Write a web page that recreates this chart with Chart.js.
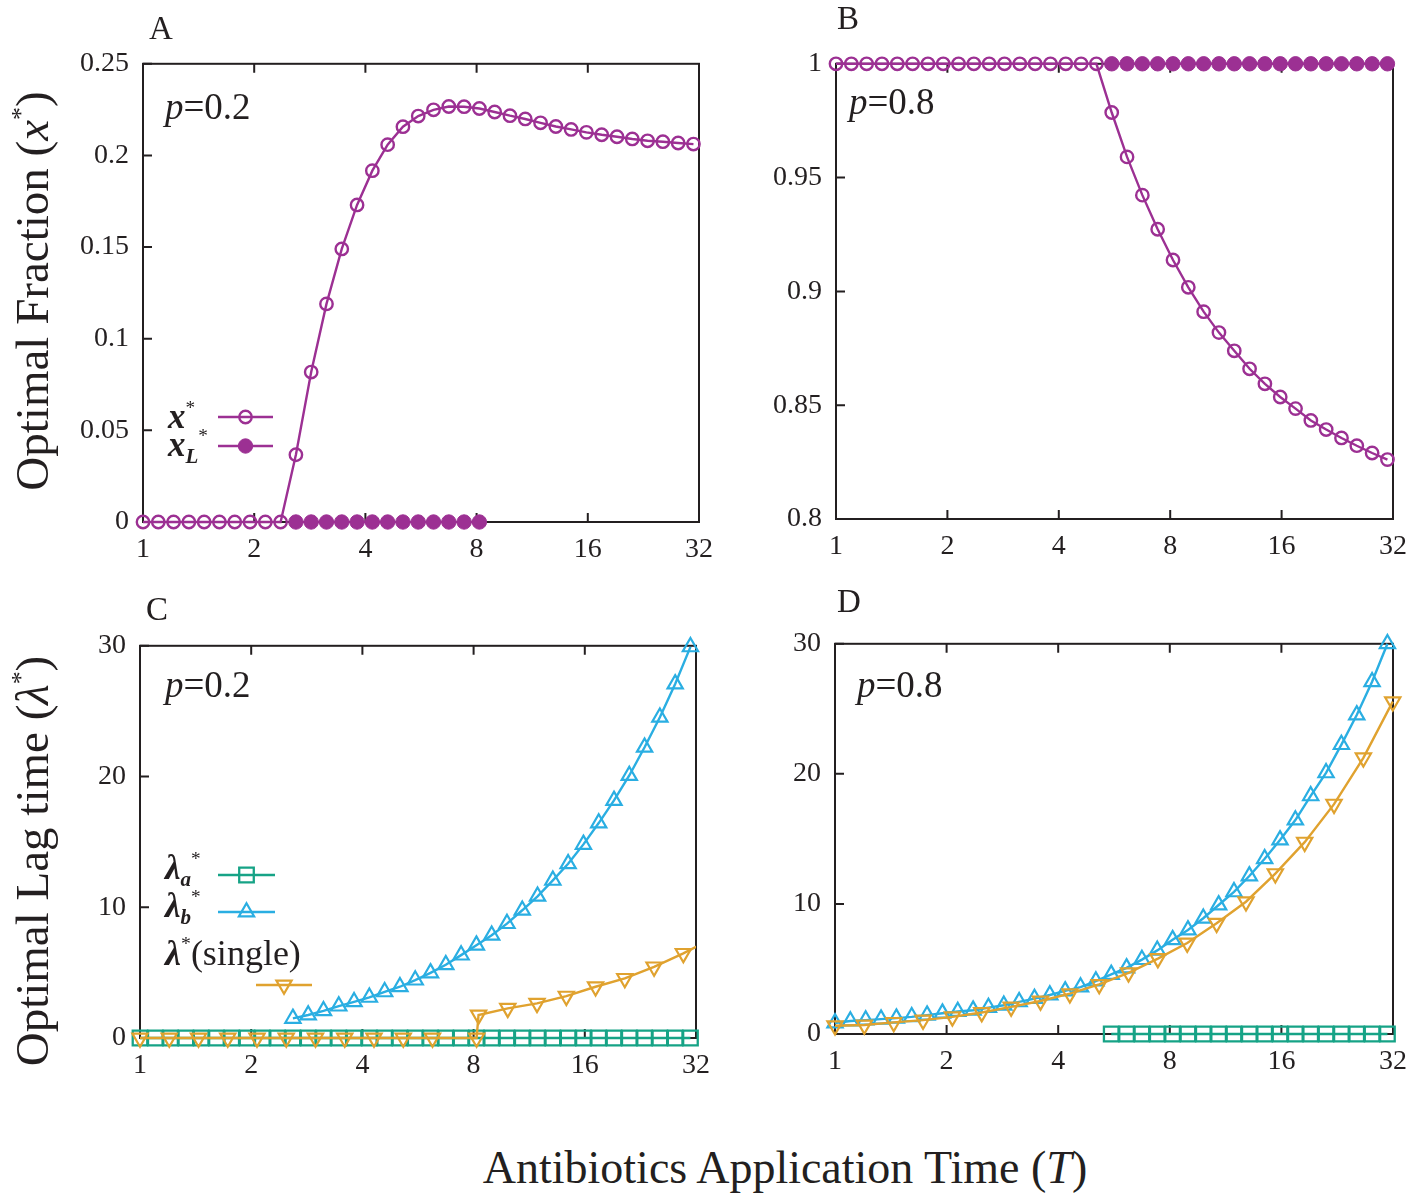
<!DOCTYPE html>
<html>
<head>
<meta charset="utf-8">
<title>Optimal fraction and lag time</title>
<script src="https://cdn.jsdelivr.net/npm/chart.js@4.4.1/dist/chart.umd.min.js"></script>
<style>
  body { margin: 0; background: #fff; }
  #wrap { position: relative; width: 1424px; height: 1194px; background: #fff; overflow: hidden;
          font-family: "Liberation Serif", "Times New Roman", serif; color: #231f20; }
  canvas.panel { position: absolute; }
  .txt { position: absolute; white-space: nowrap; line-height: 1; }
  .bi { font-weight: bold; font-style: italic; }
  .sup { position: relative; font-size: 0.55em; top: -0.75em; }
  .sub { position: relative; font-size: 0.6em; top: 0.35em; }
</style>
</head>
<body>
<div id="wrap">
  <canvas class="panel" id="cA"></canvas>
  <canvas class="panel" id="cB"></canvas>
  <canvas class="panel" id="cC"></canvas>
  <canvas class="panel" id="cD"></canvas>

  <div class="txt" style="left:149px;top:12px;font-size:33px">A</div>
  <div class="txt" style="left:837px;top:2px;font-size:33px">B</div>
  <div class="txt" style="left:146px;top:593px;font-size:33px">C</div>
  <div class="txt" style="left:837px;top:585px;font-size:33px">D</div>

  <div class="txt" style="left:165px;top:88px;font-size:37px"><i>p</i>=0.2</div>
  <div class="txt" style="left:849px;top:83px;font-size:37px"><i>p</i>=0.8</div>
  <div class="txt" style="left:165px;top:666px;font-size:37px"><i>p</i>=0.2</div>
  <div class="txt" style="left:857px;top:666px;font-size:37px"><i>p</i>=0.8</div>

  <!-- legend labels -->
  <div class="txt" style="left:168px;top:399px;font-size:35px"><span class="bi">x</span><span class="sup">*</span></div>
  <div class="txt" style="left:168px;top:427px;font-size:35px"><span class="bi">x</span><span class="sub bi">L</span><span class="sup">*</span></div>
  <div class="txt" style="left:165px;top:850px;font-size:35px"><span class="bi">λ</span><span class="sub bi">a</span><span class="sup">*</span></div>
  <div class="txt" style="left:165px;top:888px;font-size:35px"><span class="bi">λ</span><span class="sub bi">b</span><span class="sup">*</span></div>
  <div class="txt" style="left:165px;top:935px;font-size:36px"><span class="bi">λ</span><span class="sup">*</span>(single)</div>

  <div class="txt" style="left:32px;top:291px;font-size:47px;transform:translate(-50%,-50%) rotate(-90deg)">Optimal Fraction (<i>x</i><span class="sup">*</span>)</div>
  <div class="txt" style="left:32px;top:861px;font-size:47px;transform:translate(-50%,-50%) rotate(-90deg)">Optimal Lag time (<i>λ</i><span class="sup">*</span>)</div>
  <div class="txt" style="left:785px;top:1168px;font-size:46px;transform:translate(-50%,-50%)">Antibiotics Application Time (<i>T</i>)</div>
</div>

<script>
// time grids (T = 1.1^k and T = 1.2^j)
var T_fine = [1, 1.1, 1.21, 1.331, 1.4641, 1.6105, 1.7716, 1.9487, 2.1436, 2.3579,
  2.5937, 2.8531, 3.1384, 3.4523, 3.7975, 4.1772, 4.595, 5.0545, 5.5599, 6.1159,
  6.7275, 7.4003, 8.1403, 8.9543, 9.8497, 10.8347, 11.9182, 13.11, 14.421, 15.8631,
  17.4494, 19.1943, 21.1138, 23.2252, 25.5477, 28.1024, 30.9127];
var T_coarse = [1, 1.2, 1.44, 1.728, 2.0736, 2.4883, 2.986, 3.5832, 4.2998, 5.1598,
  6.1917, 7.4301, 8.9161, 10.6993, 12.8392, 15.407, 18.4884, 22.1861, 26.6233, 31.948];
var T_singleC = [1, 1.2, 1.44, 1.728, 2.0736, 2.4883, 2.986, 3.5832, 4.2998, 5.1598,
  6.1917, 8.15, 8.25, 9.9, 11.88, 14.26, 17.11, 20.53, 24.64, 29.57, 35.48];

var xTickVals = [1, 2, 4, 8, 16, 32];
var xTickLabels = ['1', '2', '4', '8', '16', '32'];
var yTickValsA = [0, 0.05, 0.1, 0.15, 0.2, 0.25];
var yTickLabelsA = ['0', '0.05', '0.1', '0.15', '0.2', '0.25'];
var yTickValsB = [0.8, 0.85, 0.9, 0.95, 1];
var yTickLabelsB = ['0.8', '0.85', '0.9', '0.95', '1'];
var yTickValsLag = [0, 10, 20, 30];
var yTickLabelsLag = ['0', '10', '20', '30'];

// panel A, p = 0.2
var xStarA = [0, 0, 0, 0, 0, 0, 0, 0, 0, 0,
  0.0367, 0.0818, 0.119, 0.149, 0.173, 0.1917, 0.2059, 0.2157, 0.2215, 0.2249,
  0.2267, 0.2266, 0.2256, 0.2237, 0.2217, 0.2199, 0.2178, 0.2158, 0.2142, 0.2126,
  0.2113, 0.2102, 0.209, 0.208, 0.2075, 0.2068, 0.2062];
var xLStarA = [null, null, null, null, null, null, null, null, null, null,
  0, 0, 0, 0, 0, 0, 0, 0, 0, 0, 0, 0, 0,
  null, null, null, null, null, null, null, null, null, null, null, null, null, null];

// panel B, p = 0.8
var xStarB = [1, 1, 1, 1, 1, 1, 1, 1, 1, 1, 1, 1, 1, 1, 1, 1, 1, 1,
  0.9786, 0.9591, 0.9423, 0.9273, 0.9138, 0.9018, 0.8911, 0.8819, 0.8739, 0.866,
  0.8594, 0.8536, 0.8485, 0.8433, 0.8393, 0.8356, 0.8322, 0.829, 0.8261];
var xLStarB = [null, null, null, null, null, null, null, null, null, null,
  null, null, null, null, null, null, null, null,
  1, 1, 1, 1, 1, 1, 1, 1, 1, 1, 1, 1, 1, 1, 1, 1, 1, 1, 1];

// panel C, p = 0.2
var lagAC = [0, 0, 0, 0, 0, 0, 0, 0, 0, 0, 0, 0, 0, 0, 0, 0, 0, 0, 0, 0,
  0, 0, 0, 0, 0, 0, 0, 0, 0, 0, 0, 0, 0, 0, 0, 0, 0];
var lagBC = [null, null, null, null, null, null, null, null, null, null,
  1.5, 1.76, 2.08, 2.44, 2.77, 3.11, 3.53, 3.92, 4.43, 4.98,
  5.6, 6.34, 7.1, 7.86, 8.75, 9.77, 10.84, 12.06, 13.33, 14.81,
  16.44, 18.17, 20.08, 22.24, 24.53, 27.08, 29.92];
var lagSingleC = [0, 0, 0, 0, 0, 0, 0, 0, 0, 0, 0, 0,
  1.76, 2.27, 2.65, 3.2, 3.92, 4.56, 5.44, 6.47, 7.63];

// panel D, p = 0.8
var lagAD = [null, null, null, null, null, null, null, null, null, null,
  null, null, null, null, null, null, null, null,
  0, 0, 0, 0, 0, 0, 0, 0, 0, 0, 0, 0, 0, 0, 0, 0, 0, 0, 0];
var lagBD = [0.85, 1.0, 1.07, 1.14, 1.22, 1.32, 1.45, 1.6, 1.73, 1.83,
  2.03, 2.21, 2.47, 2.72, 3.0, 3.31, 3.61, 4.07, 4.58, 5.08,
  5.72, 6.43, 7.25, 8.0, 8.9, 9.92, 10.93, 12.15, 13.47, 14.92,
  16.45, 18.31, 20.08, 22.25, 24.53, 27.08, 30.0];
var lagSingleD = [0.64, 0.69, 0.89, 1.07, 1.32, 1.65, 2.08, 2.54, 3.1, 3.81,
  4.7, 5.8, 6.99, 8.52, 10.17, 12.33, 14.75, 17.67, 21.23, 25.55];

var INK = '#231f20';
var PURPLE = '#9c3093';
var CYAN = '#2aaee2';
var ORANGE = '#e0a22f';
var GREEN = '#16a386';
var NONE = 'rgba(255,255,255,0)';

var mOpen = { style: 'circle', r: 6.2, bw: 2.4, color: PURPLE, fill: NONE };
var mFilled = { style: 'circle', r: 7.2, bw: 1, color: PURPLE, fill: PURPLE };
var mSquare = { style: 'rect', r: 10.3, bw: 2.3, color: GREEN, fill: NONE };
var mUp = { style: 'triangle', r: 8.8, bw: 2.2, color: CYAN, fill: NONE, rot: 0 };
var mDown = { style: 'triangle', r: 8.8, bw: 2.2, color: ORANGE, fill: NONE, rot: 180 };

function pts(xs, ys) {
  return xs.map(function (x, i) { return { x: x, y: ys[i] }; });
}

function series(label, xs, ys, m, order, clip) {
  return {
    label: label, data: pts(xs, ys), order: order,
    borderColor: m.color, borderWidth: 2.4, backgroundColor: m.fill,
    pointStyle: m.style, pointRadius: m.r, pointHoverRadius: m.r,
    pointBorderWidth: m.bw, pointBorderColor: m.color, pointBackgroundColor: m.fill,
    pointRotation: m.rot || 0, tension: 0, fill: false, spanGaps: false,
    clip: clip === undefined ? 14 : clip
  };
}

function marker(ctx, m, x, y) {
  ctx.save();
  ctx.lineWidth = m.bw;
  ctx.strokeStyle = m.color;
  ctx.fillStyle = m.fill;
  ctx.beginPath();
  if (m.style === 'circle') {
    ctx.arc(x, y, m.r, 0, Math.PI * 2);
  } else if (m.style === 'rect') {
    var s = m.r * Math.SQRT1_2;
    ctx.rect(x - s, y - s, 2 * s, 2 * s);
  } else {
    var rad = (m.rot || 0) * Math.PI / 180;
    for (var i = 0; i < 3; i++) {
      var a = rad + i * 2 * Math.PI / 3;
      var px = x + Math.sin(a) * m.r, py = y - Math.cos(a) * m.r;
      if (i) ctx.lineTo(px, py); else ctx.moveTo(px, py);
    }
    ctx.closePath();
  }
  ctx.fill();
  ctx.stroke();
  ctx.restore();
}

// box frame with inward ticks, under the data
var framePlugin = {
  id: 'frame',
  beforeDatasetsDraw: function (chart) {
    var a = chart.chartArea, ctx = chart.ctx;
    var xs = chart.scales.x, ys = chart.scales.y;
    ctx.save();
    ctx.strokeStyle = INK;
    ctx.lineWidth = 2;
    ctx.strokeRect(a.left, a.top, a.right - a.left, a.bottom - a.top);
    ctx.beginPath();
    xs.ticks.forEach(function (t) {
      var px = xs.getPixelForValue(t.value);
      ctx.moveTo(px, a.bottom); ctx.lineTo(px, a.bottom - 9);
      ctx.moveTo(px, a.top); ctx.lineTo(px, a.top + 9);
    });
    ys.ticks.forEach(function (t) {
      var py = ys.getPixelForValue(t.value);
      ctx.moveTo(a.left, py); ctx.lineTo(a.left + 9, py);
    });
    ctx.stroke();
    ctx.restore();
  }
};

// legend samples (line + marker), given in page coordinates
var keyPlugin = {
  id: 'keys',
  afterDatasetsDraw: function (chart, args, opts) {
    var ctx = chart.ctx;
    (opts.items || []).forEach(function (it) {
      var x0 = it.x0 - opts.ox, x1 = it.x1 - opts.ox, y = it.y - opts.oy;
      ctx.save();
      ctx.strokeStyle = it.m.color;
      ctx.lineWidth = 2.4;
      ctx.beginPath();
      ctx.moveTo(x0, y); ctx.lineTo(x1, y);
      ctx.stroke();
      ctx.restore();
      marker(ctx, it.m, (x0 + x1) / 2, y);
    });
  }
};

function makePanel(id, rect, yMin, yMax, yVals, yLabels, datasets, keys) {
  var padL = 100, padT = 30, padR = 25, padB = 55;
  var cv = document.getElementById(id);
  var left = rect.l - padL, top = rect.t - padT;
  cv.width = rect.r - rect.l + padL + padR;
  cv.height = rect.b - rect.t + padT + padB;
  cv.style.left = left + 'px';
  cv.style.top = top + 'px';
  var tickFont = { family: 'Liberation Serif', size: 28 };
  return new Chart(cv.getContext('2d'), {
    type: 'line',
    data: { datasets: datasets },
    options: {
      responsive: false,
      animation: false,
      events: [],
      layout: { autoPadding: false, padding: { left: 0, top: padT, right: padR, bottom: 0 } },
      plugins: {
        legend: { display: false },
        tooltip: { enabled: false },
        keys: { items: keys, ox: left, oy: top }
      },
      scales: {
        x: {
          type: 'logarithmic', min: 1, max: 32,
          grid: { display: false, drawTicks: false },
          border: { display: false },
          afterBuildTicks: function (s) { s.ticks = xTickVals.map(function (v) { return { value: v }; }); },
          afterFit: function (s) { s.height = padB; },
          ticks: {
            autoSkip: false, maxRotation: 0, padding: 11, color: INK, font: tickFont,
            callback: function (v, i) { return xTickLabels[i]; }
          }
        },
        y: {
          type: 'linear', min: yMin, max: yMax,
          grid: { display: false, drawTicks: false },
          border: { display: false },
          afterBuildTicks: function (s) { s.ticks = yVals.map(function (v) { return { value: v }; }); },
          afterFit: function (s) { s.width = padL; },
          ticks: {
            autoSkip: false, padding: 14, color: INK, font: tickFont,
            callback: function (v, i) { return yLabels[i]; }
          }
        }
      }
    },
    plugins: [framePlugin, keyPlugin]
  });
}

makePanel('cA', { l: 143, t: 63, r: 699, b: 522 }, 0, 0.25, yTickValsA, yTickLabelsA, [
  series('x*', T_fine, xStarA, mOpen, 1),
  series('xL*', T_fine, xLStarA, mFilled, 0)
], [
  { x0: 218, x1: 273, y: 417, m: mOpen },
  { x0: 218, x1: 273, y: 446, m: mFilled }
]);

makePanel('cB', { l: 836, t: 63, r: 1393, b: 519 }, 0.8, 1, yTickValsB, yTickLabelsB, [
  series('x*', T_fine, xStarB, mOpen, 1),
  series('xL*', T_fine, xLStarB, mFilled, 0)
], []);

makePanel('cC', { l: 140, t: 645, r: 696, b: 1038 }, 0, 30, yTickValsLag, yTickLabelsLag, [
  series('lambda_a*', T_fine, lagAC, mSquare, 2),
  series('lambda_b*', T_fine, lagBC, mUp, 1),
  series('lambda* (single)', T_singleC, lagSingleC, mDown, 0, { left: 14, top: 14, right: 0, bottom: 14 })
], [
  { x0: 218, x1: 275, y: 875, m: mSquare },
  { x0: 218, x1: 275, y: 912, m: mUp },
  { x0: 256, x1: 312, y: 985, m: mDown }
]);

makePanel('cD', { l: 835, t: 643, r: 1393, b: 1034 }, 0, 30, yTickValsLag, yTickLabelsLag, [
  series('lambda_a*', T_fine, lagAD, mSquare, 2),
  series('lambda_b*', T_fine, lagBD, mUp, 1),
  series('lambda* (single)', T_coarse, lagSingleD, mDown, 0)
], []);
</script>
</body>
</html>
